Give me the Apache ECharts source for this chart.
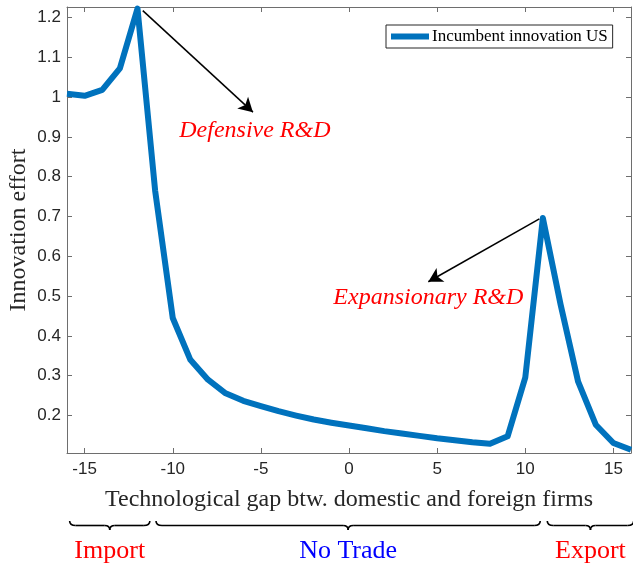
<!DOCTYPE html>
<html>
<head>
<meta charset="utf-8">
<script src="https://cdn.jsdelivr.net/npm/echarts@6/dist/echarts.min.js"></script>
<style>
  html, body { margin: 0; padding: 0; background: #fff; }
  #chart { width: 633px; height: 564px; }
</style>
</head>
<body>
<div id="chart"></div>
<script>
// technological gap (x) and incumbent innovation effort (y)
var gap = [-16, -15, -14, -13, -12, -11, -10, -9, -8, -7, -6, -5, -4, -3, -2, -1, 0,
  1, 2, 3, 4, 5, 6, 7, 8, 9, 10, 11, 12, 13, 14, 15, 16];
var effort = [1.008, 1.003, 1.018, 1.072, 1.222, 0.765, 0.445, 0.340, 0.290, 0.256, 0.237, 0.224,
  0.211, 0.200, 0.190, 0.182, 0.175, 0.168, 0.161, 0.155, 0.149, 0.143, 0.138, 0.133,
  0.129, 0.148, 0.295, 0.696, 0.480, 0.285, 0.177, 0.131, 0.114];
var seriesName = 'Incumbent innovation US';

// trade regimes shown under the x axis
var regimeNames = ['Import', 'No Trade', 'Export'];
var regimeFrom = [-15.85, -10.95, 11.25];
var regimeTo = [-11.3, 10.85, 16.15];
var regimeColors = ['#ff0000', '#0000ff', '#ff0000'];

var axisColor = '#6e6e6e';
var tickFont = { fontFamily: 'Liberation Sans', fontSize: 17, color: '#262626' };
var serif = 'Liberation Serif';

var chart = echarts.init(document.getElementById('chart'));

var points = gap.map(function (x, i) { return [x, effort[i]]; });

function hideEnds(axis) {
  axis.axisLabel.showMinLabel = false;
  axis.axisLabel.showMaxLabel = false;
  return axis;
}

var xMain = hideEnds({
  type: 'value', min: -16, max: 16, splitNumber: 6, position: 'bottom',
  name: 'Technological gap btw. domestic and foreign firms',
  nameLocation: 'middle', nameGap: 35,
  nameTextStyle: { fontFamily: serif, fontSize: 24, color: '#262626' },
  axisLine: { show: true, onZero: false, lineStyle: { color: axisColor, width: 1 } },
  axisTick: { show: true, inside: true, length: 5, lineStyle: { color: axisColor } },
  axisLabel: Object.assign({ margin: 8 }, tickFont),
  splitLine: { show: false }
});
var xTop = {
  type: 'value', min: -16, max: 16, splitNumber: 6, position: 'top',
  axisLine: { show: true, onZero: false, lineStyle: { color: axisColor, width: 1 } },
  axisTick: { show: true, inside: true, length: 5, lineStyle: { color: axisColor } },
  axisLabel: { show: false },
  splitLine: { show: false }
};
var yMain = hideEnds({
  type: 'value', min: 0.106, max: 1.226, splitNumber: 11, position: 'left',
  name: 'Innovation effort', nameLocation: 'middle', nameGap: 36, nameMoveOverlap: false,
  nameTextStyle: { fontFamily: serif, fontSize: 24, color: '#262626' },
  axisLine: { show: true, onZero: false, lineStyle: { color: axisColor, width: 1 } },
  axisTick: { show: true, inside: true, length: 5, lineStyle: { color: axisColor } },
  axisLabel: Object.assign({ margin: 6, formatter: function (v) { return String(+v.toFixed(2)); } }, tickFont),
  splitLine: { show: false }
});
var yRight = {
  type: 'value', min: 0.106, max: 1.226, splitNumber: 11, position: 'right',
  axisLine: { show: true, onZero: false, lineStyle: { color: axisColor, width: 1 } },
  axisTick: { show: true, inside: true, length: 5, lineStyle: { color: axisColor } },
  axisLabel: { show: false },
  splitLine: { show: false }
};

chart.setOption({
  animation: false,
  grid: { left: 67, right: 2, top: 7, bottom: 111, containLabel: false, outerBoundsMode: 'none' },
  legend: {
    data: [seriesName],
    left: 386, top: 25,
    orient: 'vertical',
    icon: 'rect', itemWidth: 38, itemHeight: 6, itemGap: 4,
    padding: [3, 5, 3, 5],
    borderColor: '#262626', borderWidth: 1, backgroundColor: '#fff',
    textStyle: { fontFamily: serif, fontSize: 17, color: '#000', padding: [0, 0, 0, -2] }
  },
  xAxis: [xMain, xTop],
  yAxis: [yMain, yRight],
  series: [{
    name: seriesName,
    type: 'line',
    data: points,
    showSymbol: false,
    symbol: 'none',
    color: '#0072bd',
    lineStyle: { color: '#0072bd', width: 6, join: 'round' },
    markLine: {
      silent: true,
      symbol: ['none', 'arrow'],
      symbolSize: [12, 14],
      label: { show: false },
      lineStyle: { color: '#000', width: 1.5, type: 'solid' },
      data: [
        [{ coord: [-11.7, 1.217] }, { coord: [-5.45, 0.962] }],
        [{ coord: [10.8, 0.694] }, { coord: [4.5, 0.536] }]
      ]
    }
  }]
});

// annotations and regime braces, placed through the axis scales
var notes = [
  { text: 'Defensive R&D', at: [-5.34, 0.915] },
  { text: 'Expansionary R&D', at: [4.5, 0.497] }
];
var graphics = [];
notes.forEach(function (n) {
  var p = chart.convertToPixel({ gridIndex: 0 }, n.at);
  graphics.push({
    type: 'text', x: p[0], y: p[1],
    style: {
      text: n.text, fill: '#ff0000', font: 'italic 24px "Liberation Serif"',
      textAlign: 'center', textVerticalAlign: 'middle'
    }
  });
});

var braceStyle = { fill: null, stroke: '#000', lineWidth: 1.6 };
function curve(x1, y1, cx, cy, x2, y2) {
  return { type: 'bezierCurve', shape: { x1: x1, y1: y1, cpx1: cx, cpy1: cy, x2: x2, y2: y2 }, style: braceStyle };
}
function seg(x1, y1, x2, y2) {
  return { type: 'line', shape: { x1: x1, y1: y1, x2: x2, y2: y2 }, style: braceStyle };
}
regimeNames.forEach(function (name, i) {
  var x0 = chart.convertToPixel({ xAxisIndex: 0 }, regimeFrom[i]);
  var x1 = chart.convertToPixel({ xAxisIndex: 0 }, regimeTo[i]);
  var mid = (x0 + x1) / 2;
  var yt = 521, yl = 525.5, yd = 530;
  graphics.push(
    curve(x0, yt, x0, yl, x0 + 6, yl),
    seg(x0 + 6, yl, mid - 5, yl),
    curve(mid - 5, yl, mid, yl, mid, yd),
    curve(mid, yd, mid, yl, mid + 5, yl),
    seg(mid + 5, yl, x1 - 6, yl),
    curve(x1 - 6, yl, x1, yl, x1, yt)
  );
  graphics.push({
    type: 'text', x: Math.min(mid, 592), y: 551,
    style: {
      text: name, fill: regimeColors[i], font: '26px "Liberation Serif"',
      textAlign: 'center', textVerticalAlign: 'middle'
    }
  });
});
chart.setOption({ graphic: graphics });
</script>
</body>
</html>
